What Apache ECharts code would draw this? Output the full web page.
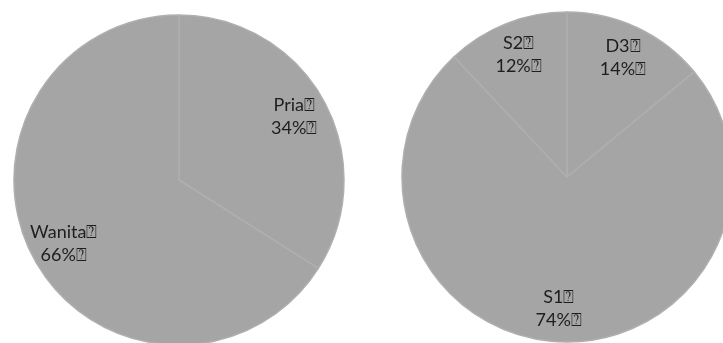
<!DOCTYPE html>
<html>
<head>
<meta charset="utf-8">
<script src="https://cdn.jsdelivr.net/npm/echarts@6/dist/echarts.min.js"></script>
<style>
html,body{margin:0;padding:0;background:#fff;}
#chart{width:723px;height:343px;}
</style>
</head>
<body>
<div id="chart"></div>
<script>
var genderNames = ['Pria', 'Wanita'];
var genderValues = [34, 66];
var eduNames = ['D3', 'S1', 'S2'];
var eduValues = [14, 74, 12];
var MARK = '\u2370';

function toData(names, values) {
  return names.map(function (n, i) { return { name: n, value: values[i] }; });
}

var chart = echarts.init(document.getElementById('chart'), null, { renderer: 'canvas' });

function pieSeries(names, values, center) {
  return [
    {
      type: 'pie',
      center: center,
      radius: [0, 165],
      startAngle: 90,
      clockwise: true,
      silent: true,
      animation: false,
      label: { show: false },
      labelLine: { show: false },
      itemStyle: {
        color: '#a5a5a5',
        borderColor: '#afafaf',
        borderWidth: 1.5
      },
      emphasis: { disabled: true },
      data: toData(names, values)
    },
    {
      type: 'pie',
      center: center,
      radius: [92, 165],
      startAngle: 90,
      clockwise: true,
      silent: true,
      animation: false,
      itemStyle: { color: 'rgba(0,0,0,0)', borderWidth: 0 },
      label: {
        show: true,
        position: 'inside',
        formatter: function (p) { return p.name + MARK + '\n' + p.value + '%' + MARK; },
        fontFamily: 'Lato, "Open Sans", sans-serif',
        fontSize: 18,
        lineHeight: 23,
        color: '#1e1e1e',
        align: 'center'
      },
      labelLine: { show: false },
      emphasis: { disabled: true },
      data: toData(names, values)
    }
  ];
}

chart.setOption({
  backgroundColor: '#ffffff',
  series: pieSeries(genderNames, genderValues, [179, 180])
    .concat(pieSeries(eduNames, eduValues, [567, 177]))
});
</script>
</body>
</html>
